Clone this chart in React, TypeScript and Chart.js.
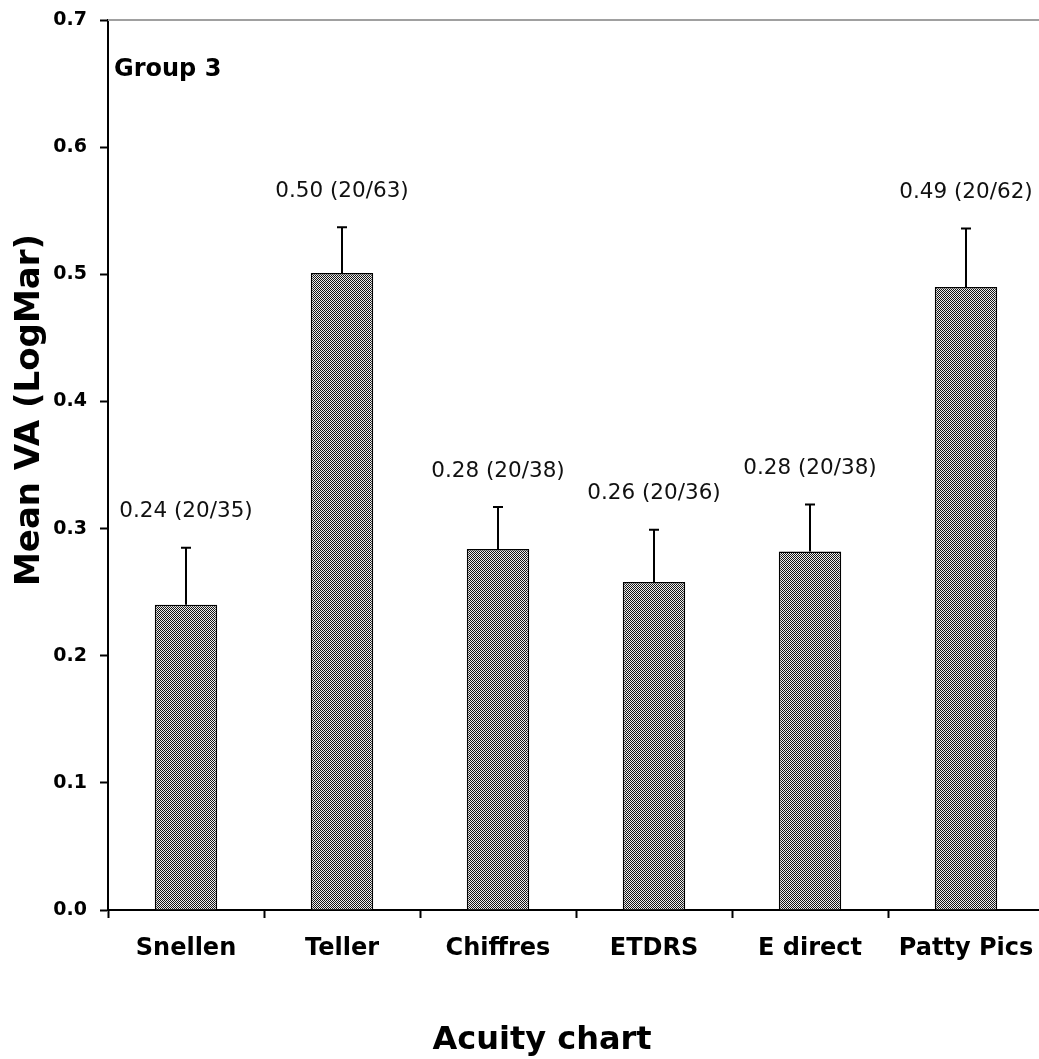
import React, { useEffect, useRef } from "react";
import { Chart, registerables } from "chart.js";

Chart.register(...registerables);

const categories = ["Snellen", "Teller", "Chiffres", "ETDRS", "E direct", "Patty Pics"];
const meanVA = [0.24, 0.501, 0.284, 0.258, 0.282, 0.49];
const errorUp = [0.045, 0.036, 0.033, 0.041, 0.037, 0.046];
const valueLabels = [
  "0.24 (20/35)",
  "0.50 (20/63)",
  "0.28 (20/38)",
  "0.26 (20/36)",
  "0.28 (20/38)",
  "0.49 (20/62)",
];
const yTicks = [0, 0.1, 0.2, 0.3, 0.4, 0.5, 0.6, 0.7];

const W = 1044;
const H = 1059;

function makePattern(): CanvasPattern | string {
  const c = document.createElement("canvas");
  c.width = 2;
  c.height = 2;
  const g = c.getContext("2d");
  if (!g) return "#888";
  g.fillStyle = "#eeeeee";
  g.fillRect(0, 0, 2, 2);
  g.fillStyle = "#151515";
  g.fillRect(0, 0, 1, 1);
  g.fillRect(1, 1, 1, 1);
  const p = g.createPattern(c, "repeat");
  return p || "#888";
}

export default function App() {
  const ref = useRef<HTMLCanvasElement | null>(null);

  useEffect(() => {
    document.body.style.margin = "0";
    document.body.style.overflow = "hidden";
    const canvas = ref.current;
    if (!canvas) return;
    const pattern = makePattern();

    const overlay = {
      id: "overlay",
      afterDatasetsDraw(chart: any) {
        const ctx = chart.ctx;
        const ys = chart.scales.y;
        const area = chart.chartArea;
        const meta = chart.getDatasetMeta(0);
        ctx.save();
        // top grey border
        ctx.strokeStyle = "#a0a0a0";
        ctx.lineWidth = 2;
        ctx.beginPath();
        ctx.moveTo(area.left, area.top);
        ctx.lineTo(area.right, area.top);
        ctx.stroke();
        // error bars and labels
        meta.data.forEach((bar: any, i: number) => {
          const x = bar.x;
          const yb = ys.getPixelForValue(meanVA[i]);
          const yt = ys.getPixelForValue(meanVA[i] + errorUp[i]);
          ctx.strokeStyle = "#000";
          ctx.lineWidth = 2;
          ctx.beginPath();
          ctx.moveTo(x, yb);
          ctx.lineTo(x, yt);
          ctx.moveTo(x - 5, yt);
          ctx.lineTo(x + 5, yt);
          ctx.stroke();
          ctx.fillStyle = "#111";
          ctx.font = "21.5px 'DejaVu Sans'";
          ctx.textAlign = "center";
          ctx.textBaseline = "middle";
          ctx.fillText(valueLabels[i], x, yt - 36);
        });
        // Group label
        ctx.fillStyle = "#000";
        ctx.font = "bold 24px 'DejaVu Sans'";
        ctx.textAlign = "left";
        ctx.textBaseline = "alphabetic";
        ctx.fillText("Group 3", 114, 76);
        // x title
        ctx.font = "bold 32px 'DejaVu Sans'";
        ctx.textAlign = "center";
        ctx.fillText("Acuity chart", 542, 1049);
        // y title
        ctx.translate(30, 410);
        ctx.rotate(-Math.PI / 2);
        ctx.font = "bold 34px 'DejaVu Sans'";
        ctx.textAlign = "center";
        ctx.textBaseline = "middle";
        ctx.fillText("Mean VA (LogMar)", 0, 0);
        ctx.restore();
      },
    };

    const chart = new Chart(canvas, {
      type: "bar",
      data: {
        labels: categories,
        datasets: [
          {
            data: meanVA,
            backgroundColor: pattern as any,
            borderColor: "#000",
            borderWidth: 1.5,
            barPercentage: 0.4,
            categoryPercentage: 1,
          },
        ],
      },
      options: {
        responsive: false,
        animation: false,
        devicePixelRatio: 1,
        layout: { padding: { top: 20, left: 0, right: 0, bottom: 0 } },
        plugins: {
          legend: { display: false },
          tooltip: { enabled: false },
        },
        scales: {
          x: {
            offset: true,
            grid: {
              offset: true,
              drawOnChartArea: false,
              drawTicks: true,
              tickLength: 8,
              tickColor: "#000",
              tickWidth: 2,
            },
            border: { display: true, color: "#000", width: 2 },
            ticks: {
              color: "#000",
              font: { family: "'DejaVu Sans'", size: 24, weight: "bold" },
              padding: 16,
              autoSkip: false,
              maxRotation: 0,
            },
            afterFit(scale: any) {
              scale.height = H - 910;
              scale.paddingLeft = 0;
              scale.paddingRight = 0;
            },
          },
          y: {
            min: 0,
            max: 0.7,
            afterBuildTicks(scale: any) {
              scale.ticks = yTicks.map((v) => ({ value: v }));
            },
            grid: {
              drawOnChartArea: false,
              drawTicks: true,
              tickLength: 8,
              tickColor: "#000",
              tickWidth: 2,
            },
            border: { display: true, color: "#000", width: 2 },
            ticks: {
              color: "#000",
              font: { family: "'DejaVu Sans'", size: 19, weight: "bold" },
              padding: 13,
              callback: (v: any) => Number(v).toFixed(1),
            },
            afterFit(scale: any) {
              scale.width = 108;
              scale.paddingTop = 0;
              scale.paddingBottom = 0;
            },
          },
        },
      },
      plugins: [overlay],
    });

    return () => chart.destroy();
  }, []);

  return (
    <div style={{ width: 1039, height: H, overflow: "hidden" }}>
      <canvas ref={ref} width={W} height={H} style={{ display: "block", width: W, height: H }} />
    </div>
  );
}
